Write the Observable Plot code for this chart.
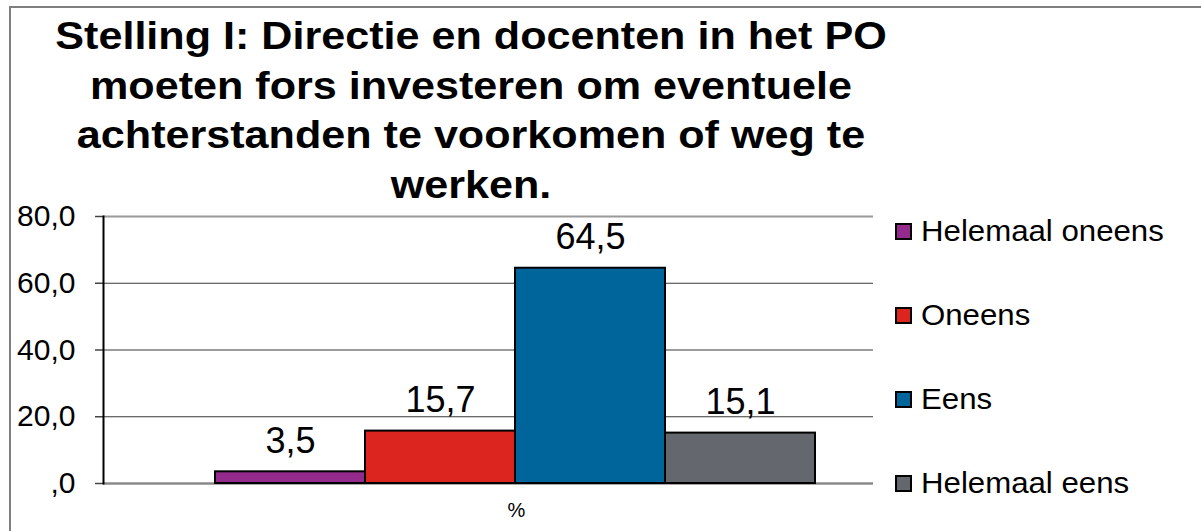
<!DOCTYPE html>
<html>
<head>
<meta charset="utf-8">
<script src="https://cdn.jsdelivr.net/npm/d3@7"></script>
<script src="https://cdn.jsdelivr.net/npm/@observablehq/plot@0.6"></script>
<style>
  html, body { margin: 0; padding: 0; background: #fff; }
  #wrap { position: relative; width: 1201px; height: 531px; overflow: hidden; font-family: "Liberation Sans", Arial, sans-serif; }
  #border { position: absolute; left: 9px; top: 6px; width: 1400px; height: 800px; border-left: 2px solid #7f7f7f; border-top: 2px solid #7f7f7f; }
  #title { position: absolute; left: 0; top: 11px; width: 942px; text-align: center; font-weight: bold; font-size: 38.5px; line-height: 49.5px; color: #000; transform: scaleX(1.12); transform-origin: 471px 0; }
  #chart { position: absolute; left: 0; top: 0; }
  #legend { position: absolute; left: 895px; top: 0; }
  .item { position: absolute; left: 0; display: flex; align-items: center; height: 36px; white-space: nowrap; }
  .sw { width: 17px; height: 17px; box-sizing: border-box; border: 2px solid #000; margin-right: 9px; }
  .lt { font-size: 30px; line-height: 36px; color: #000; transform: scaleX(1.04); transform-origin: 0 0; }
</style>
</head>
<body>
<div id="wrap">
  <div id="border"></div>
  <div id="chart"></div>
  <div id="title"></div>
  <div id="legend"></div>
</div>
<script>
const titleLines = [
  "Stelling I: Directie en docenten in het PO",
  "moeten fors investeren om eventuele",
  "achterstanden te voorkomen of weg te",
  "werken."
];
const category = "%";
const series = ["Helemaal oneens", "Oneens", "Eens", "Helemaal eens"];
const values = [3.5, 15.7, 64.5, 15.1];
const valueLabels = ["3,5", "15,7", "64,5", "15,1"];
const colors = ["#952a8d", "#dd2520", "#00659a", "#64676d"];
const yTicks = [0, 20, 40, 60, 80];
const yTickLabels = [",0", "20,0", "40,0", "60,0", "80,0"];
const legendCenters = [231, 315, 399, 483];

const data = series.map((s, i) => ({series: s, value: values[i], label: valueLabels[i], category}));

document.getElementById("title").innerHTML = titleLines.map(t => `<div>${t}</div>`).join("");

const chart = Plot.plot({
  width: 1201,
  height: 531,
  marginTop: 216,
  marginBottom: 48,
  marginLeft: 103,
  marginRight: 328,
  style: {background: "transparent", fontFamily: "'Liberation Sans', Arial, sans-serif", color: "#000"},
  x: {type: "band", domain: series, range: [215, 815], padding: 0, axis: null},
  y: {domain: [0, 80], axis: null},
  color: {domain: series, range: colors},
  marks: [
    Plot.ruleY(yTicks.filter(d => d > 0 && d < 80), {stroke: "#3a3a3a", strokeWidth: 1.2}),
    Plot.ruleY([80], {stroke: "#9a9a9a", strokeWidth: 2}),
    Plot.ruleY([0], {stroke: "#8a8a8a", strokeWidth: 2.5}),
    Plot.axisY({ticks: yTicks, tickFormat: d => yTickLabels[yTicks.indexOf(d)], label: null, tickSize: 8, tickPadding: 20, fontSize: 30, stroke: "#444", strokeWidth: 1.5}),
    Plot.frame({anchor: "left", stroke: "#000", strokeWidth: 2}),
    Plot.barY(data, {x: "series", y: "value", fill: "series", stroke: "#000", strokeWidth: 2, inset: 0}),
    Plot.text(data, {x: "series", y: "value", text: "label", lineAnchor: "bottom", dy: -19, fontSize: 36, fill: "#000"}),
    Plot.text([category], {text: d => d, frameAnchor: "bottom", dx: 28, dy: 33, fontSize: 20, fill: "#000"})
  ]
});
document.getElementById("chart").appendChild(chart);

const legend = d3.select("#legend");
series.forEach((s, i) => {
  const item = legend.append("div").attr("class", "item").style("top", (legendCenters[i] - 18) + "px");
  item.append("div").attr("class", "sw").style("background", colors[i]);
  item.append("div").attr("class", "lt").text(s);
});
</script>
</body>
</html>
